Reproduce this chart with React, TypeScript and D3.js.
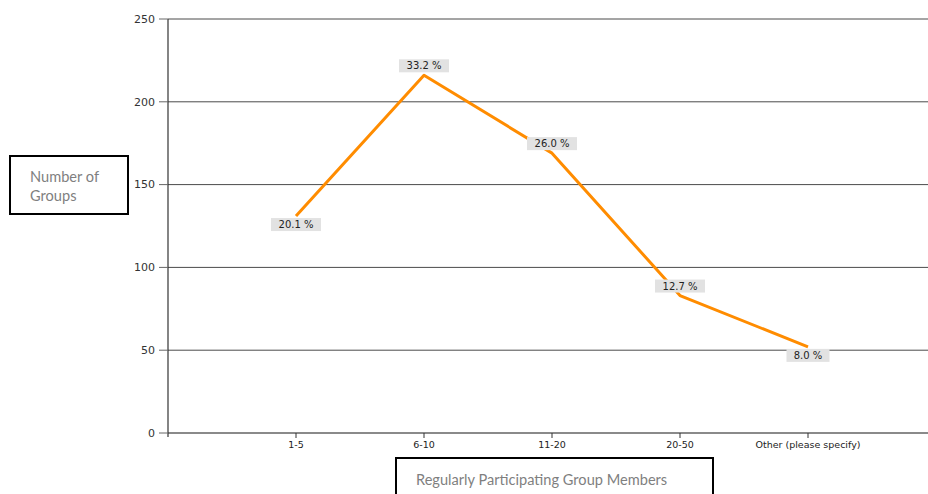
import React from "react";
import * as d3 from "d3";

const categories = ["1-5", "6-10", "11-20", "20-50", "Other (please specify)"];
const counts = [131, 216, 169, 83, 52];
const percentLabels = ["20.1 %", "33.2 %", "26.0 %", "12.7 %", "8.0 %"];
const labelSides = ["below", "above", "above", "above", "below"];
const yTicks = [0, 50, 100, 150, 200, 250];
const yTitleLines = ["Number of", "Groups"];
const xTitle = "Regularly Participating Group Members";

const W = 928;
const H = 494;
const left = 168;
const top = 19;
const bottom = 433;

export default function App() {
  const x = d3.scalePoint<string>().domain(categories).range([left, left + 768]).padding(1);
  const y = d3.scaleLinear().domain([0, 250]).range([bottom, top]);
  const line = d3
    .line<number>()
    .x((_, i) => x(categories[i]) as number)
    .y((d) => y(d));

  const tickFont = "'DejaVu Sans', Verdana, sans-serif";
  const titleFont = "Lato, 'Open Sans', sans-serif";

  return (
    <svg
      width={W}
      height={H}
      style={{ position: "absolute", left: 0, top: 0, background: "#fff" }}
    >
      {/* gridlines */}
      {yTicks.filter((t) => t > 0).map((t) => (
        <line key={t} x1={left} x2={W} y1={y(t)} y2={y(t)} stroke="#4a4a4a" strokeWidth={1} />
      ))}
      {/* x axis */}
      <line x1={left} x2={W} y1={y(0)} y2={y(0)} stroke="#8a8a8a" strokeWidth={2} />
      {/* y axis */}
      <line x1={left} x2={left} y1={top} y2={bottom + 4} stroke="#333" strokeWidth={1.2} />
      {yTicks.map((t) => (
        <g key={t}>
          <line x1={left - 9} x2={left} y1={y(t)} y2={y(t)} stroke="#666" strokeWidth={1} />
          <text
            x={left - 13}
            y={y(t)}
            dy="0.35em"
            textAnchor="end"
            fontFamily={tickFont}
            fontSize={11}
            fill="#333"
          >
            {t}
          </text>
        </g>
      ))}
      {categories.map((c) => (
        <g key={c}>
          <line
            x1={x(c)}
            x2={x(c)}
            y1={y(0)}
            y2={y(0) + 5}
            stroke="#333"
            strokeWidth={1}
          />
          <text
            x={x(c)}
            y={y(0) + 15}
            textAnchor="middle"
            fontFamily={tickFont}
            fontSize={9.5}
            fill="#222"
          >
            {c}
          </text>
        </g>
      ))}
      {/* series line */}
      <path d={line(counts) || ""} fill="none" stroke="#ff8c00" strokeWidth={3} strokeLinejoin="round" />
      {/* data labels */}
      {counts.map((v, i) => {
        const cx = x(categories[i]) as number;
        const cy = y(v);
        const label = percentLabels[i];
        const bw = label.length * 7 + 8;
        const bh = 13;
        const by = labelSides[i] === "above" ? cy - bh - 3 : cy + 2;
        return (
          <g key={i}>
            <rect x={cx - bw / 2} y={by} width={bw} height={bh} fill="#e2e2e2" />
            <text
              x={cx}
              y={by + bh / 2}
              dy="0.36em"
              textAnchor="middle"
              fontFamily={tickFont}
              fontSize={10}
              fill="#222"
            >
              {label}
            </text>
          </g>
        );
      })}
      {/* y title box */}
      <rect x={10} y={156} width={118} height={58} fill="#fff" stroke="#000" strokeWidth={2} />
      {yTitleLines.map((l, i) => (
        <text key={l} x={30} y={182 + i * 19} fontFamily={titleFont} fontSize={14.6} fill="#7f7f7f">
          {l}
        </text>
      ))}
      {/* x title box */}
      <rect x={396} y={458} width={317} height={50} fill="#fff" stroke="#000" strokeWidth={2} />
      <text x={416} y={485} fontFamily={titleFont} fontSize={14.6} fill="#7f7f7f">
        {xTitle}
      </text>
    </svg>
  );
}
